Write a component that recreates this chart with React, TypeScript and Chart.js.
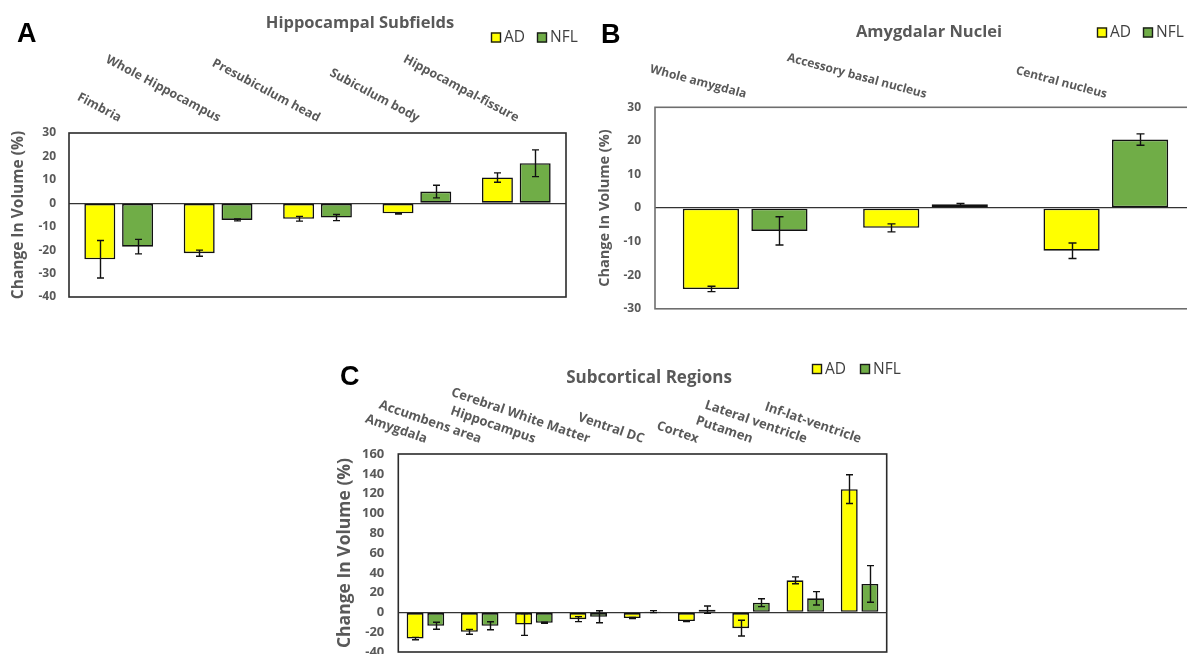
import React, { useEffect, useRef } from 'react';
import { Chart, registerables } from 'chart.js';

Chart.register(...registerables);

// ---------------- DATA ----------------
const hippoLabels = ['Fimbria', 'Whole Hippocampus', 'Presubiculum head', 'Subiculum body', 'Hippocampal-fissure'];
const hippoAD = [-23.9, -21.3, -6.6, -4.3, 11.0];
const hippoADErr = [8.0, 1.3, 1.0, 0.3, 2.0];
const hippoNFL = [-18.5, -7.1, -6.1, 5.0, 17.1];
const hippoNFLErr = [3.1, 0.4, 1.3, 2.7, 5.7];

const amygLabels = ['Whole amygdala', 'Accessory basal nucleus', 'Central nucleus'];
const amygAD = [-24.1, -5.9, -12.7];
const amygADErr = [0.8, 1.2, 2.3];
const amygNFL = [-6.8, 1.1, 20.4];
const amygNFLErr = [4.2, 0.3, 1.7];

const subLabels = ['Amygdala', 'Accumbens area', 'Hippocampus', 'Cerebral White Matter', 'Ventral DC', 'Cortex', 'Putamen', 'Lateral ventricle', 'Inf-lat-ventricle'];
const subAD = [-26.4, -19.6, -12.2, -6.8, -5.7, -8.8, -15.9, 32.4, 124.5];
const subADErr = [1.2, 2.5, 11.0, 2.5, 0.5, 0.5, 8.0, 3.5, 14.5];
const subNFL = [-13.5, -13.5, -10.5, -4.4, 0.8, 2.7, 9.8, 14.2, 28.7];
const subNFLErr = [3.5, 4.0, 0.5, 6.0, 1.0, 3.7, 4.0, 6.8, 18.5];

const seriesNames = ['AD', 'NFL'];
const yTitleText = 'Change In Volume (%)';

// ---------------- STYLE ----------------
const YELLOW = '#FFFF00';
const GREEN = '#70AD47';
const GREY = '#595959';
const FONT = '"Open Sans", Lato, sans-serif';
const LETTER_FONT = '"Liberation Sans", Arial, sans-serif';

type Panel = {
  key: string;
  box: { left: number; top: number; width: number; height: number };
  area: { left: number; right: number; top: number; bottom: number };
  labels: string[];
  ad: number[]; adErr: number[]; nfl: number[]; nflErr: number[];
  yMin: number; yMax: number; yStep: number;
  tickFont: number; tickPad: number;
  yTitleFont: number; yTitleX: number;
  catFont: number; catAngle: number; catY: number;
  letter: string; letterX: number; letterBase: number; letterSize: number;
  title: string; titleX: number; titleY: number; titleFont: number;
  legendBoxes: number[]; legendY: number; legendFont: number;
  frameColor: string; cap: number;
};

const panels: Panel[] = [
  {
    key: 'A',
    box: { left: 0, top: 0, width: 600, height: 320 },
    area: { left: 69, right: 566, top: 133, bottom: 297 },
    labels: hippoLabels, ad: hippoAD, adErr: hippoADErr, nfl: hippoNFL, nflErr: hippoNFLErr,
    yMin: -40, yMax: 30, yStep: 10,
    tickFont: 12, tickPad: 13,
    yTitleFont: 15.5, yTitleX: 19,
    catFont: 12.5, catAngle: 28, catY: 122,
    letter: 'A', letterX: 17, letterBase: 42, letterSize: 27,
    title: 'Hippocampal Subfields', titleX: 360, titleY: 23, titleFont: 16.5,
    legendBoxes: [491, 537], legendY: 37.5, legendFont: 15.5,
    frameColor: '#2b2b2b', cap: 3.5,
  },
  {
    key: 'B',
    box: { left: 590, top: 0, width: 630, height: 330 },
    area: { left: 655, right: 1196, top: 107.3, bottom: 311 },
    labels: amygLabels, ad: amygAD, adErr: amygADErr, nfl: amygNFL, nflErr: amygNFLErr,
    yMin: -30, yMax: 30, yStep: 10,
    tickFont: 12, tickPad: 14,
    yTitleFont: 14.5, yTitleX: 605,
    catFont: 12, catAngle: 15, catY: 98,
    letter: 'B', letterX: 601, letterBase: 43, letterSize: 27,
    title: 'Amygdalar Nuclei', titleX: 929, titleY: 32, titleFont: 16.5,
    legendBoxes: [1097, 1143], legendY: 32.5, legendFont: 15.5,
    frameColor: '#6e6e6e', cap: 4,
  },
  {
    key: 'C',
    box: { left: 320, top: 340, width: 600, height: 340 },
    area: { left: 398.3, right: 886.7, top: 454, bottom: 652 },
    labels: subLabels, ad: subAD, adErr: subADErr, nfl: subNFL, nflErr: subNFLErr,
    yMin: -40, yMax: 160, yStep: 20,
    tickFont: 13, tickPad: 14,
    yTitleFont: 17.5, yTitleX: 345,
    catFont: 13, catAngle: 19, catY: 443,
    letter: 'C', letterX: 340, letterBase: 385, letterSize: 27,
    title: 'Subcortical Regions', titleX: 649, titleY: 378, titleFont: 17,
    legendBoxes: [812, 860], legendY: 369, legendFont: 15.5,
    frameColor: '#2b2b2b', cap: 3.5,
  },
];

function makePlugins(p: Panel) {
  const ox = p.box.left;
  const oy = p.box.top;
  const errorBars = {
    id: 'errorBars' + p.key,
    afterDatasetsDraw(chart: any) {
      const { ctx } = chart;
      const ys = chart.scales.y;
      ctx.save();
      ctx.strokeStyle = '#111';
      ctx.lineWidth = 1.4;
      chart.data.datasets.forEach((ds: any, i: number) => {
        const meta = chart.getDatasetMeta(i);
        meta.data.forEach((el: any, j: number) => {
          const v = ds.data[j];
          const e = ds.errors[j];
          const x = Math.round(el.x) + 0.5;
          const y1 = ys.getPixelForValue(v + e);
          const y2 = ys.getPixelForValue(v - e);
          ctx.beginPath();
          ctx.moveTo(x, y1); ctx.lineTo(x, y2);
          ctx.moveTo(x - p.cap, y1); ctx.lineTo(x + p.cap, y1);
          ctx.moveTo(x - p.cap, y2); ctx.lineTo(x + p.cap, y2);
          ctx.stroke();
        });
      });
      ctx.restore();
    },
  };
  const decor = {
    id: 'decor' + p.key,
    afterDraw(chart: any) {
      const { ctx, chartArea } = chart;
      ctx.save();
      // frame
      ctx.strokeStyle = p.frameColor;
      ctx.lineWidth = 1.6;
      ctx.strokeRect(chartArea.left, chartArea.top, chartArea.right - chartArea.left, chartArea.bottom - chartArea.top);
      // category labels
      const xs = chart.scales.x;
      ctx.fillStyle = GREY;
      ctx.font = `bold ${p.catFont}px ${FONT}`;
      ctx.textAlign = 'right';
      ctx.textBaseline = 'alphabetic';
      p.labels.forEach((lab, i) => {
        const cx = xs.getPixelForValue(i);
        ctx.save();
        ctx.translate(cx, p.catY - oy);
        ctx.rotate((p.catAngle * Math.PI) / 180);
        ctx.fillText(lab, 0, 0);
        ctx.restore();
      });
      // panel letter
      ctx.fillStyle = '#000';
      ctx.font = `bold ${p.letterSize}px ${LETTER_FONT}`;
      ctx.textAlign = 'left';
      ctx.textBaseline = 'alphabetic';
      ctx.fillText(p.letter, p.letterX - ox, p.letterBase - oy);
      // title
      ctx.fillStyle = GREY;
      ctx.font = `bold ${p.titleFont}px ${FONT}`;
      ctx.textAlign = 'center';
      ctx.textBaseline = 'middle';
      ctx.fillText(p.title, p.titleX - ox, p.titleY - oy);
      // legend
      const colors = [YELLOW, GREEN];
      p.legendBoxes.forEach((bx, i) => {
        const x0 = bx - ox;
        const y0 = p.legendY - oy;
        ctx.fillStyle = colors[i];
        ctx.fillRect(x0, y0 - 5, 10, 10);
        ctx.strokeStyle = '#1a1a1a';
        ctx.lineWidth = 1.4;
        ctx.strokeRect(x0 + 0.5, y0 - 4.5, 9, 9);
        ctx.fillStyle = '#3f3f3f';
        ctx.font = `${p.legendFont}px ${FONT}`;
        ctx.textAlign = 'left';
        ctx.textBaseline = 'middle';
        ctx.fillText(seriesNames[i], x0 + 13, y0 + 0.5);
      });
      ctx.restore();
    },
  };
  return [errorBars, decor];
}

function PanelChart({ p }: { p: Panel }) {
  const ref = useRef<HTMLCanvasElement | null>(null);
  useEffect(() => {
    if (!ref.current) return;
    const yAxisWidth = p.area.left - p.box.left;
    const lh = p.yTitleFont * 1.2;
    const titlePadTop = p.yTitleX - p.box.left - lh / 2;
    const common = {
      borderColor: '#111',
      borderWidth: 1.6,
      borderSkipped: false,
      barPercentage: 0.82,
      categoryPercentage: 0.76,
    };
    const chart = new Chart(ref.current, {
      type: 'bar',
      data: {
        labels: p.labels,
        datasets: [
          { label: seriesNames[0], data: p.ad, errors: p.adErr, backgroundColor: YELLOW, ...common } as any,
          { label: seriesNames[1], data: p.nfl, errors: p.nflErr, backgroundColor: GREEN, ...common } as any,
        ],
      },
      options: {
        animation: false,
        responsive: false,
        devicePixelRatio: 1,
        layout: {
          padding: {
            left: 0,
            top: p.area.top - p.box.top,
            right: p.box.left + p.box.width - p.area.right,
            bottom: p.box.top + p.box.height - p.area.bottom,
          },
        },
        plugins: { legend: { display: false }, tooltip: { enabled: false }, title: { display: false } },
        scales: {
          x: { display: false },
          y: {
            min: p.yMin,
            max: p.yMax,
            afterFit: (scale: any) => { scale.width = yAxisWidth; },
            border: { display: false },
            grid: {
              drawTicks: false,
              lineWidth: 1.3,
              color: (c: any) => (c.tick && c.tick.value === 0 ? '#333' : 'rgba(0,0,0,0)'),
            },
            ticks: {
              stepSize: p.yStep,
              padding: p.tickPad,
              color: GREY,
              font: { family: FONT, size: p.tickFont, weight: 'bold' },
            },
            title: {
              display: true,
              text: yTitleText,
              color: GREY,
              font: { family: FONT, size: p.yTitleFont, weight: 'bold' },
              padding: { top: titlePadTop, bottom: 0 },
            },
          },
        },
      } as any,
      plugins: makePlugins(p) as any,
    });
    return () => chart.destroy();
  }, [p]);
  return (
    <canvas
      ref={ref}
      width={p.box.width}
      height={p.box.height}
      style={{ position: 'absolute', left: p.box.left, top: p.box.top, width: p.box.width, height: p.box.height }}
    />
  );
}

export default function App() {
  return (
    <div style={{ position: 'fixed', left: 0, top: 0, width: 1187, height: 654, overflow: 'hidden', background: '#fff' }}>
      {panels.map((p) => (
        <PanelChart key={p.key} p={p} />
      ))}
    </div>
  );
}
